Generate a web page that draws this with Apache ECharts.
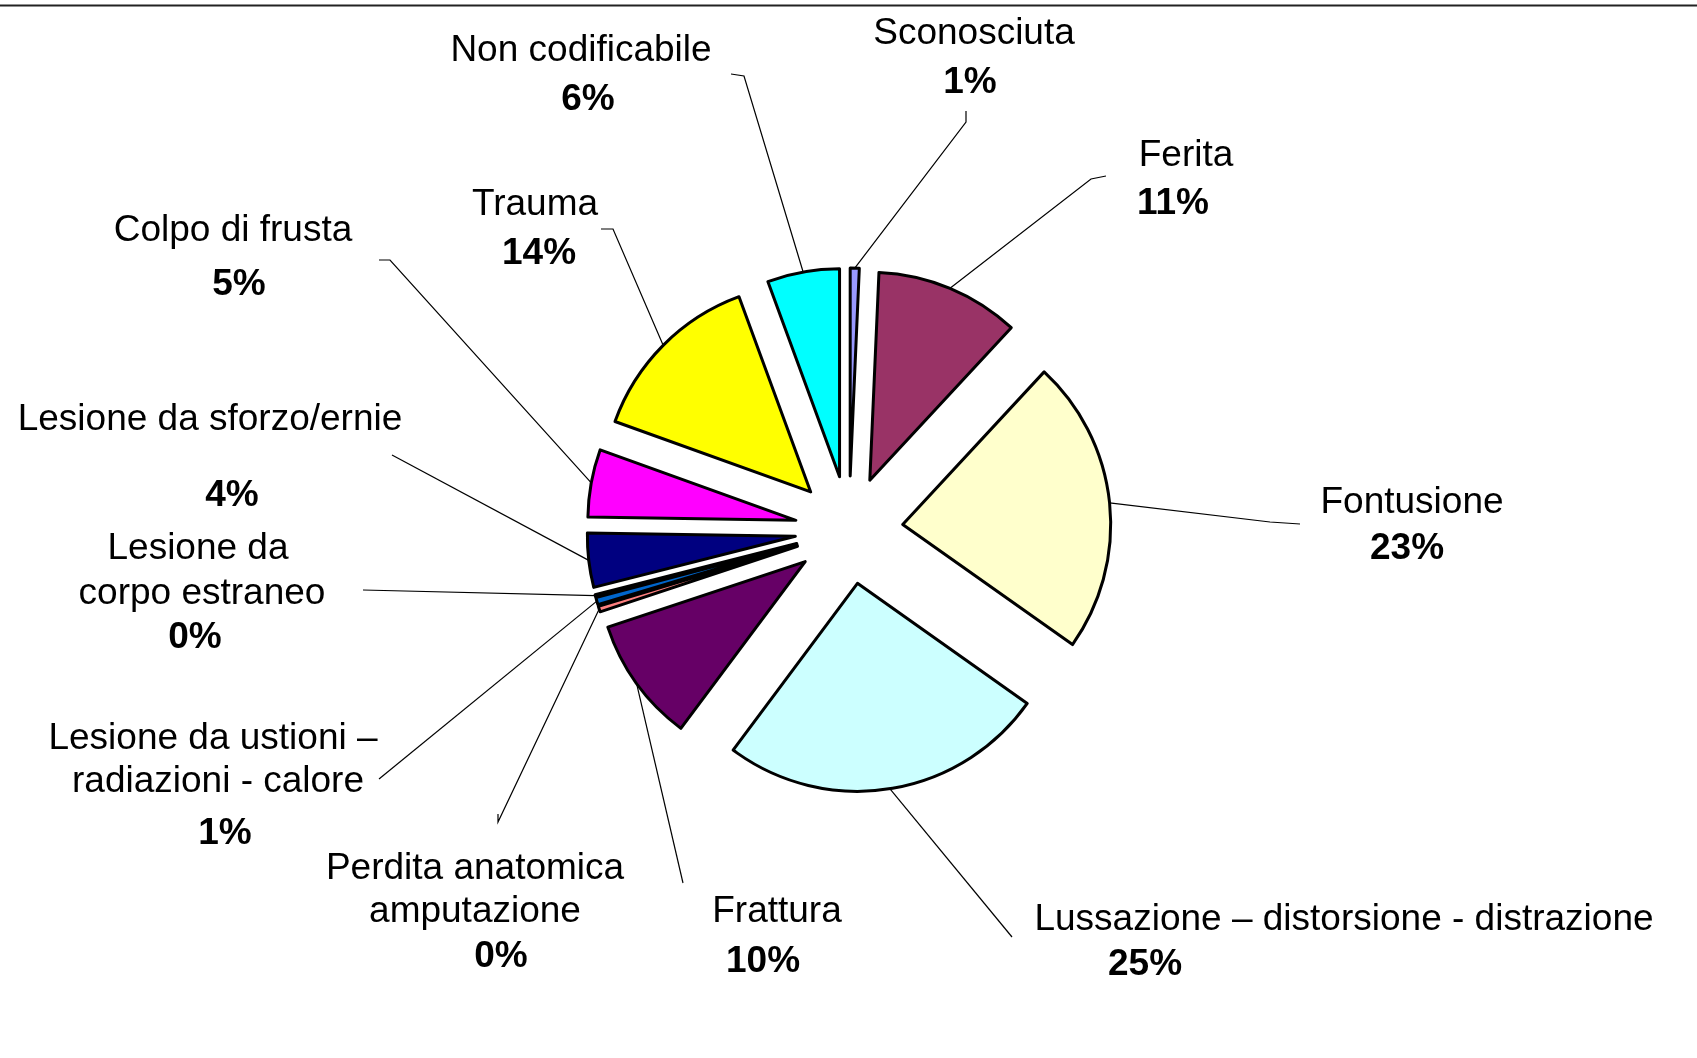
<!DOCTYPE html>
<html><head><meta charset="utf-8">
<script src="https://cdn.jsdelivr.net/npm/echarts@6/dist/echarts.min.js"></script>
<style>html,body{margin:0;padding:0;background:#fff}#c{width:1697px;height:1058px}</style>
</head><body><div id="c"></div>
<script>
// ---- data ----
const categories = ['Sconosciuta', 'Ferita', 'Fontusione', 'Lussazione – distorsione - distrazione', 'Frattura',
  'Perdita anatomica amputazione', 'Lesione da ustioni – radiazioni - calore', 'Lesione da corpo estraneo',
  'Lesione da sforzo/ernie', 'Colpo di frusta', 'Trauma', 'Non codificabile'];
const values = [0.7, 11.2, 22.9, 25.4, 9.7, 0.45, 0.55, 0.15, 4.2, 5.25, 13.9, 5.6];
const labelTextLines = [['Sconosciuta'], ['Ferita'], ['Fontusione'], ['Lussazione – distorsione - distrazione'], ['Frattura'],
  ['Perdita anatomica', 'amputazione'], ['Lesione da ustioni –', 'radiazioni - calore'], ['Lesione da', 'corpo estraneo'],
  ['Lesione da sforzo/ernie'], ['Colpo di frusta'], ['Trauma'], ['Non codificabile']];
const colors = ['#9999FF', '#993366', '#FFFFCC', '#CCFFFF', '#660066', '#FF8080', '#0066CC', '#CCCCFF', '#000080', '#FF00FF', '#FFFF00', '#00FFFF'];

// ---- label layout (presentation only) ----
const labelLayoutCfg = [
  {cx: 974, y1: 31, shifts: [0], gaps: [], pShift: -4, pDist: 49, leader: [[966, 122], [966, 111]]},
  {cx: 1186, y1: 153, shifts: [0], gaps: [], pShift: -13, pDist: 48, leader: [[1091, 179], [1106, 176]]},
  {cx: 1412, y1: 500, shifts: [0], gaps: [], pShift: -5, pDist: 46, leader: [[1270, 522], [1300, 524]]},
  {cx: 1344, y1: 917, shifts: [0], gaps: [], pShift: -199, pDist: 45, leader: [[1012, 937]]},
  {cx: 777, y1: 909, shifts: [0], gaps: [], pShift: -14, pDist: 50, leader: [[683, 883]]},
  {cx: 475, y1: 866, shifts: [0, 0], gaps: [43], pShift: 26, pDist: 47, leader: [[498, 822], [498, 814]]},
  {cx: 213, y1: 736, shifts: [0, 5], gaps: [43], pShift: 12, pDist: 54, leader: [[379, 779]]},
  {cx: 202, y1: 546, shifts: [-4, 0], gaps: [45], pShift: -7, pDist: 44, leader: [[363, 590]]},
  {cx: 210, y1: 417, shifts: [0], gaps: [], pShift: 22, pDist: 76, leader: [[392, 455]]},
  {cx: 233, y1: 228, shifts: [0], gaps: [], pShift: 6, pDist: 54, leader: [[390, 260], [379, 260]]},
  {cx: 535, y1: 202, shifts: [0], gaps: [], pShift: 4, pDist: 49, leader: [[613, 229], [601, 229]]},
  {cx: 581, y1: 48, shifts: [0], gaps: [], pShift: 7, pDist: 49, leader: [[744, 76], [731, 74]]}
];

const FONT = 'Liberation Sans, Arial, sans-serif';
const FS = 37;
const BASE_LH = 45;
const Y_ADJ = 3;
const CENTER = [849, 530];
const R = 208;
const OFFSET = 54;
const BORDER = 3;

function shiftPad(s) { return s >= 0 ? [0, 0, 0, 2 * s] : [0, -2 * s, 0, 0]; }

const explodedData = categories.map((c, i) => ({
  name: c, value: values[i], selected: true,
  itemStyle: {color: colors[i]},
  select: {itemStyle: {color: colors[i], borderColor: '#000', borderWidth: BORDER}}
}));

const labelData = categories.map((c, i) => {
  const L = labelLayoutCfg[i];
  const rich = {};
  const lines = [];
  labelTextLines[i].forEach((t, k) => {
    rich['n' + k] = {fontFamily: FONT, fontSize: FS, color: '#000', align: 'center',
      lineHeight: k === 0 ? BASE_LH : 2 * L.gaps[k - 1] - BASE_LH, padding: shiftPad(L.shifts[k])};
    lines.push('{n' + k + '|' + t + '}');
  });
  rich.p = {fontFamily: FONT, fontSize: FS, fontWeight: 'bold', color: '#000', align: 'center',
    lineHeight: 2 * L.pDist - BASE_LH, padding: shiftPad(L.pShift)};
  return {
    name: c, value: values[i],
    label: {
      rich: rich,
      formatter: (p) => lines.join('\n') + '\n{p|' + p.percent + '%}'
    }
  };
});

const chart = echarts.init(document.getElementById('c'), null, {renderer: 'canvas'});
chart.setOption({
  backgroundColor: '#ffffff',
  animation: false,
  graphic: [{
    type: 'line', shape: {x1: 0, y1: 5.5, x2: 1697, y2: 5.5},
    style: {stroke: '#222', lineWidth: 2}, z: 10
  }],
  series: [
    {
      type: 'pie', center: CENTER, radius: R, startAngle: 90, clockwise: true,
      selectedMode: 'multiple', selectedOffset: OFFSET,
      avoidLabelOverlap: false, percentPrecision: 0,
      itemStyle: {borderColor: '#000', borderWidth: BORDER},
      label: {show: false}, labelLine: {show: false},
      emphasis: {disabled: true},
      data: explodedData
    },
    {
      type: 'pie', center: CENTER, radius: R + OFFSET, startAngle: 90, clockwise: true,
      silent: true, selectedMode: false, avoidLabelOverlap: false, percentPrecision: 0,
      itemStyle: {color: 'rgba(0,0,0,0)', borderWidth: 0},
      emphasis: {disabled: true},
      label: {show: true, position: 'outside', fontFamily: FONT, fontSize: FS, color: '#000'},
      labelLine: {show: true, length: 10, length2: 10, lineStyle: {color: '#000', width: 1.2}},
      labelLayout: function (params) {
        const L = labelLayoutCfg[params.dataIndex];
        const pts = params.labelLinePoints;
        const out = {
          x: L.cx, y: L.y1 + Y_ADJ - BASE_LH / 2, align: 'center', verticalAlign: 'top',
          hideOverlap: false, moveOverlap: false
        };
        if (pts && pts.length) out.labelLinePoints = [pts[0]].concat(L.leader);
        return out;
      },
      data: labelData
    }
  ]
});
</script>
</body></html>
